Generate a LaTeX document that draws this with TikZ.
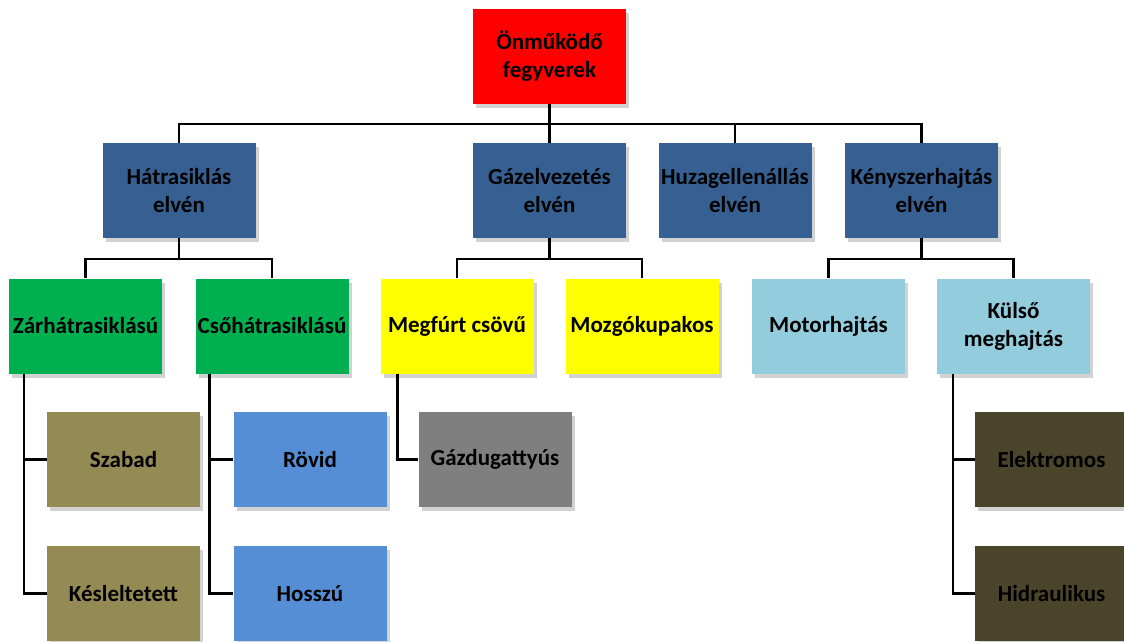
\documentclass[tikz,border=0pt]{standalone}
\usepackage{fontspec}
\setmainfont{Carlito}
\usetikzlibrary{shadows}

\definecolor{rootred}{HTML}{FF0000}
\definecolor{elvblue}{HTML}{376092}
\definecolor{hatgreen}{HTML}{00B050}
\definecolor{gazyellow}{HTML}{FFFF00}
\definecolor{kenylight}{HTML}{93CDDD}
\definecolor{zarolive}{HTML}{948A54}
\definecolor{csoblue}{HTML}{558ED5}
\definecolor{dugrey}{HTML}{7F7F7F}
\definecolor{hajtdark}{HTML}{4A452A}

\begin{document}
\begin{tikzpicture}[x=1pt, y=-1pt,
	box/.style={rectangle, minimum width=153pt, minimum height=95pt, inner sep=0pt,
		align=center, font=\fontsize{23}{28}\selectfont\bfseries,
		drop shadow={shadow xshift=3pt, shadow yshift=-4pt, fill=black!35, opacity=.5}},
	conn/.style={line width=2.4pt, black}]
		\useasboundingbox (0,0) rectangle (1124,641);
		\node[box, fill=rootred] (root) at (549.5,56.5) {Önműködő\\fegyverek};
		\node[box, fill=elvblue] (hatra) at (179,190.5) {Hátrasiklás\\elvén};
		\node[box, fill=elvblue] (gaz) at (549.5,190.5) {Gázelvezetés\\elvén};
		\node[box, fill=elvblue] (huzag) at (735,190.5) {Huzagellenállás\\elvén};
		\node[box, fill=elvblue] (kenysz) at (921.5,190.5) {Kényszerhajtás\\elvén};
		\node[box, fill=hatgreen] (zar) at (85.5,326) {Zárhátrasiklású};
		\node[box, fill=hatgreen] (cso) at (272,326) {Csőhátrasiklású};
		\node[box, fill=gazyellow] (megfurt) at (457,326) {Megfúrt csövű};
		\node[box, fill=gazyellow] (mozgo) at (642,326) {Mozgókupakos};
		\node[box, fill=kenylight] (motor) at (828.5,326) {Motorhajtás};
		\node[box, fill=kenylight] (kulso) at (1013.5,326) {Külső\\meghajtás};
		\node[box, fill=zarolive] (szabad) at (123.5,459.5) {Szabad};
		\node[box, fill=zarolive] (kesl) at (123.5,593.5) {Késleltetett};
		\node[box, fill=csoblue] (rovid) at (310,459.5) {Rövid};
		\node[box, fill=csoblue] (hosszu) at (310,593.5) {Hosszú};
		\node[box, fill=dugrey] (gazdug) at (495,459.5) {Gázdugattyús};
		\node[box, fill=hajtdark] (elektr) at (1051.5,459.5) {Elektromos};
		\node[box, fill=hajtdark] (hidr) at (1051.5,593.5) {Hidraulikus};
		\coordinate (bus1) at (0,124);
		\coordinate (bus2) at (0,259);
		\draw[conn] (root.south) -- (root.south |- bus1) -| (hatra.north);
		\draw[conn] (root.south |- bus1) -| (gaz.north);
		\draw[conn] (root.south |- bus1) -| (huzag.north);
		\draw[conn] (root.south |- bus1) -| (kenysz.north);
		\draw[conn] (hatra.south) -- (hatra.south |- bus2) -| (zar.north);
		\draw[conn] (hatra.south |- bus2) -| (cso.north);
		\draw[conn] (gaz.south) -- (gaz.south |- bus2) -| (megfurt.north);
		\draw[conn] (gaz.south |- bus2) -| (mozgo.north);
		\draw[conn] (kenysz.south) -- (kenysz.south |- bus2) -| (motor.north);
		\draw[conn] (kenysz.south |- bus2) -| (kulso.north);
		\draw[conn] ([xshift=15pt]zar.south west) |- (szabad.west);
		\draw[conn] ([xshift=15pt]zar.south west) |- (kesl.west);
		\draw[conn] ([xshift=14pt]cso.south west) |- (rovid.west);
		\draw[conn] ([xshift=14pt]cso.south west) |- (hosszu.west);
		\draw[conn] ([xshift=17pt]megfurt.south west) |- (gazdug.west);
		\draw[conn] ([xshift=16pt]kulso.south west) |- (elektr.west);
		\draw[conn] ([xshift=16pt]kulso.south west) |- (hidr.west);
	\end{tikzpicture}
\end{document}
